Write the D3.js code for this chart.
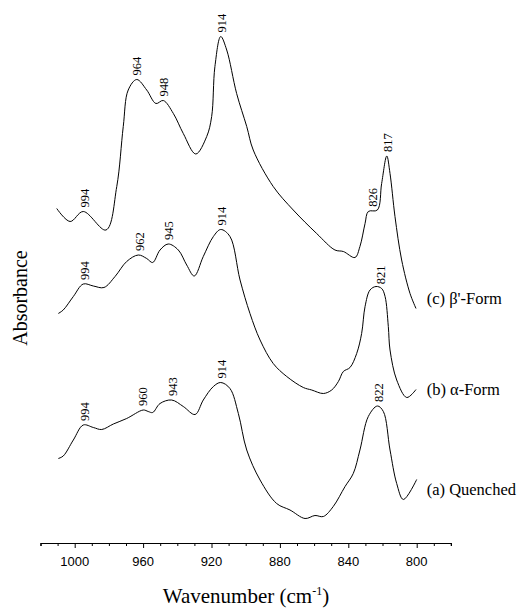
<!DOCTYPE html>
<html>
<head>
<meta charset="utf-8">
<script src="https://cdn.jsdelivr.net/npm/d3@7"></script>
<style>
  body { margin: 0; background: #fff; }
  svg text { fill: #000; }
</style>
</head>
<body>
<div id="chart"></div>
<script>
// Spectra: [wavenumber (cm-1), absorbance (stacked, arbitrary units)]
var quenched = [
  [1009.6,0.163],[1006.7,0.168],[1000.8,0.200],[995.0,0.230],[989.1,0.225],[984.2,0.221],
  [977.4,0.232],[969.6,0.243],[959.9,0.260],[957.0,0.257],[954.4,0.255],[950.1,0.273],
  [943.3,0.280],[936.5,0.267],[929.6,0.251],[924.8,0.280],[918.9,0.307],[914.6,0.315],
  [909.2,0.303],[904.3,0.253],[899.4,0.180],[891.6,0.120],[881.9,0.073],[874.1,0.060],
  [865.3,0.043],[859.5,0.049],[854.6,0.047],[848.8,0.067],[841.9,0.107],[837.1,0.133],
  [833.2,0.180],[828.3,0.247],[823.0,0.268],[819.5,0.257],[815.6,0.180],[811.7,0.113],
  [807.8,0.081],[800.0,0.121]
];
var alphaForm = [
  [1009.6,0.453],[1006.7,0.460],[1000.8,0.487],[995.0,0.512],[989.1,0.508],[982.9,0.505],
  [976.4,0.527],[969.6,0.557],[962.8,0.570],[957.9,0.563],[954.4,0.555],[950.1,0.580],
  [945.3,0.592],[939.4,0.580],[934.5,0.550],[930.1,0.528],[924.8,0.567],[918.9,0.607],
  [914.6,0.621],[909.2,0.607],[903.3,0.520],[897.5,0.453],[891.6,0.400],[883.9,0.353],
  [876.0,0.327],[866.3,0.305],[861.4,0.300],[854.6,0.293],[849.7,0.300],[845.8,0.317],
  [842.9,0.337],[839.0,0.345],[835.1,0.373],[832.2,0.413],[830.2,0.467],[827.3,0.500],
  [823.8,0.507],[820.5,0.503],[818.5,0.487],[816.6,0.427],[815.6,0.380],[811.7,0.320],
  [805.8,0.285],[800.4,0.301]
];
var betaForm = [
  [1010.5,0.663],[1002.7,0.637],[995.0,0.657],[981.7,0.620],[975.4,0.707],[971.6,0.827],
  [968.7,0.900],[963.7,0.921],[957.9,0.900],[952.5,0.873],[948.2,0.879],[942.3,0.853],
  [936.5,0.813],[929.2,0.772],[922.8,0.807],[919.9,0.847],[918.0,0.947],[914.6,1.007],
  [911.1,0.980],[905.3,0.893],[899.4,0.827],[895.6,0.780],[883.9,0.707],[872.2,0.660],
  [858.5,0.613],[847.8,0.580],[842.9,0.577],[836.1,0.565],[833.2,0.587],[830.2,0.633],
  [828.3,0.657],[823.0,0.660],[820.5,0.713],[817.5,0.768],[815.6,0.733],[812.7,0.647],
  [808.8,0.560],[803.9,0.493],[800.4,0.463]
];

// peak labels
var quenchedPeaks = [994, 960, 943, 914, 822];
var alphaPeaks = [994, 962, 945, 914, 821];
var betaPeaks = [994, 964, 948, 914, 826, 817];

var seriesNames = ["(a) Quenched", "(b) \u03b1-Form", "(c) \u03b2'-Form"];
var xTicks = d3.range(1020, 779, -10);
var xLabels = [1000, 960, 920, 880, 840, 800];

var width = 522, height = 609;
var serif = "'Liberation Serif', 'Times New Roman', serif";

var svg = d3.select("#chart").append("svg")
    .attr("width", width)
    .attr("height", height);

var x = d3.scaleLinear().domain([1020, 780]).range([40.5, 450.9]);
var y = d3.scaleLinear().domain([0, 1.08]).range([540, 0]);

var line = d3.line()
    .x(function(d) { return x(d[0]); })
    .y(function(d) { return y(d[1]); })
    .curve(d3.curveCatmullRom.alpha(0.5));

var spectra = [
  {data: quenched, peaks: quenchedPeaks, name: seriesNames[0], labelY: 0.09},
  {data: alphaForm, peaks: alphaPeaks, name: seriesNames[1], labelY: 0.29},
  {data: betaForm, peaks: betaPeaks, name: seriesNames[2], labelY: 0.472}
];

// linear lookup of the curve at a wavenumber
function valueAt(data, wn) {
  for (var i = 0; i < data.length - 1; i++) {
    var a = data[i], b = data[i + 1];
    if (wn <= a[0] && wn >= b[0]) {
      var t = (a[0] - wn) / (a[0] - b[0]);
      return a[1] + t * (b[1] - a[1]);
    }
  }
  return data[data.length - 1][1];
}

spectra.forEach(function(s) {
  svg.append("path")
      .datum(s.data)
      .attr("fill", "none")
      .attr("stroke", "#000")
      .attr("stroke-width", 1)
      .attr("d", line);

  // local maximum near each labelled wavenumber
  s.peaks.forEach(function(p) {
    var top = d3.max(s.data.filter(function(d) { return Math.abs(d[0] - p) < 2.5; }), function(d) { return d[1]; });
    var v = Math.max(top || 0, valueAt(s.data, p));
    svg.append("text")
        .attr("transform", "translate(" + x(p) + "," + (y(v) - 4) + ") rotate(-90)")
        .attr("dy", "0.35em")
        .attr("font-family", serif)
        .attr("font-size", "12.5px")
        .text(p);
  });

  svg.append("text")
      .attr("x", x(800) + 10)
      .attr("y", y(s.labelY))
      .attr("font-family", serif)
      .attr("font-size", "16.5px")
      .text(s.name);
});

// x axis
var axisY = 543;
var axis = d3.axisBottom(x)
    .tickValues(xTicks)
    .tickSizeOuter(0)
    .tickSize(3)
    .tickFormat("");

var gx = svg.append("g")
    .attr("transform", "translate(0," + axisY + ")")
    .call(axis);
gx.select(".domain").attr("stroke", "#000").attr("stroke-width", 1.2);
gx.selectAll(".tick line")
    .attr("stroke", "#000")
    .attr("y2", function(d) { return xLabels.indexOf(d) >= 0 ? 5 : 3; });

gx.selectAll(".major")
    .data(xLabels)
    .enter().append("text")
    .attr("class", "major")
    .attr("x", function(d) { return x(d); })
    .attr("y", 23)
    .attr("text-anchor", "middle")
    .attr("font-family", "'Liberation Sans', Arial, sans-serif")
    .attr("font-size", "13px")
    .attr("fill", "#000")
    .text(function(d) { return d; });

// axis titles
var title = svg.append("text")
    .attr("x", 246)
    .attr("y", 603)
    .attr("text-anchor", "middle")
    .attr("font-family", serif)
    .attr("font-size", "21px");
title.append("tspan").text("Wavenumber (cm");
title.append("tspan").attr("dy", -8).attr("font-size", "12px").text("-1");
title.append("tspan").attr("dy", 8).text(")");

svg.append("text")
    .attr("transform", "translate(27,298) rotate(-90)")
    .attr("text-anchor", "middle")
    .attr("font-family", serif)
    .attr("font-size", "20px")
    .text("Absorbance");
</script>
</body>
</html>
